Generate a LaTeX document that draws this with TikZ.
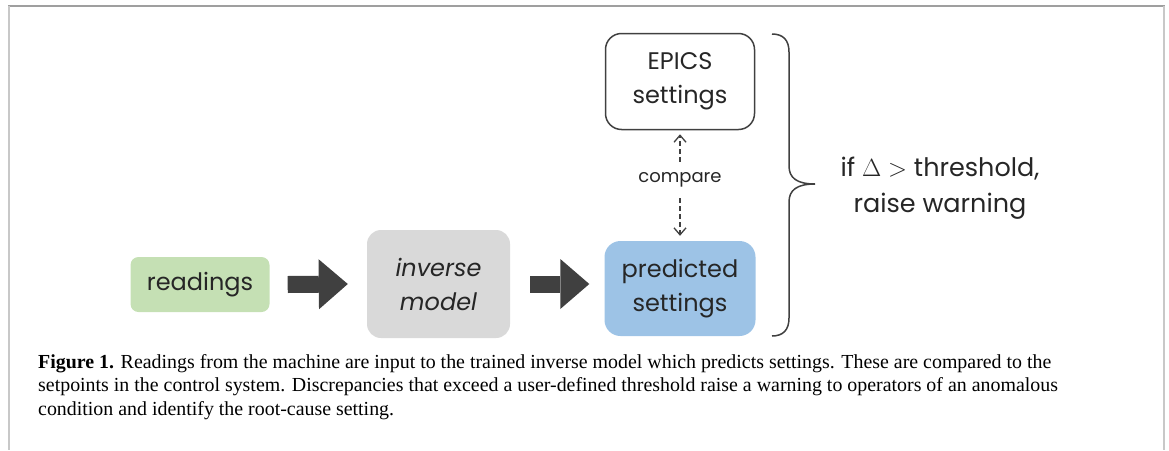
\documentclass[tikz,border=0pt]{standalone}
\usepackage{fontspec}
\setmainfont{Liberation Serif}
\newfontfamily\boxfont{Poppins}
\usetikzlibrary{arrows.meta,calc}

\definecolor{readgreen}{HTML}{C5E0B4}
\definecolor{modelgray}{HTML}{D9D9D9}
\definecolor{predblue}{HTML}{9DC3E6}
\definecolor{darkink}{HTML}{404040}
\definecolor{frameline}{HTML}{C8C8C8}
\newcommand\boxtext{\boxfont\fontsize{24}{34}\selectfont}

\begin{document}
\begin{tikzpicture}[x=1pt,y=-1pt,
	box/.style={rounded corners=14pt, inner sep=0pt, align=center, text=black!85, font=\boxtext},
	fatarrow/.style={draw=darkink, line width=17pt, -{Triangle[length=29pt,width=50pt,line width=0pt]}},
	cmparrow/.style={draw=darkink, line width=1.3pt, dash pattern=on 5pt off 3pt, -{Straight Barb[length=7pt,width=12pt]}}]
	\useasboundingbox (0,0) rectangle (1169,450);
	% page frame
	\draw[gray!75, line width=1.5pt] (8,6) -- (1165,6);
	\draw[frameline, line width=2pt] (9,6) -- (9,450);
	\draw[frameline, line width=2pt] (1164,6) -- (1164,450);

	\node[box, fill=readgreen, rounded corners=8pt, minimum width=139pt, minimum height=55pt] (readings) at (200,284.5) {readings};
	\node[box, fill=modelgray, minimum width=143pt, minimum height=108pt, font=\boxtext\itshape] (model) at (438.5,284) {inverse\\model};
	\node[box, fill=predblue, rounded corners=16pt, minimum width=151pt, minimum height=95pt] (pred) at (680,288.5) {predicted\\settings};
	\node[box, draw=darkink, line width=1.5pt, rounded corners=16pt, minimum width=149pt, minimum height=96pt] (epics) at (680,81.5) {EPICS\\settings};

	\draw[fatarrow] ([xshift=18pt]readings.east) -- ([xshift=-19pt]model.west);
	\draw[fatarrow] ([xshift=20pt]model.east) -- ($(model.east -| pred.west)+(-15,0)$);

	\node[font=\boxfont\fontsize{18}{20}\selectfont, text=black!85, minimum height=36pt, inner sep=0pt] (cmp) at (680,180) {compare};
	\draw[cmparrow, shorten >=4pt] (cmp) -- (epics);
	\draw[cmparrow, shorten >=5pt] (cmp) -- (pred);

	% brace and warning
	\draw[darkink, line width=1.5pt] (772,34) .. controls (783,34) and (789,40) .. (789,52) -- (789,166) .. controls (789,178) and (797,184) .. (815,184) .. controls (797,184) and (789,190) .. (789,202) -- (789,318) .. controls (789,330) and (783,336) .. (772,336);
	\node[align=center, text=black!85, font=\boxfont\fontsize{25.5}{36}\selectfont, inner sep=0pt] (warn) at (940,188) {if $\Delta >$ threshold,\\raise warning};

	% caption
	\begin{scope}[every node/.style={anchor=base west, inner sep=0pt, font=\fontsize{19.9}{23}\selectfont}]
	\node (cap1) at (38,368) {\textbf{Figure 1.} Readings from the machine are input to the trained inverse model which predicts settings. These are compared to the};
	\node (cap2) at (38,391.5) {setpoints in the control system. Discrepancies that exceed a user-defined threshold raise a warning to operators of an anomalous};
	\node (cap3) at (38,415) {condition and identify the root-cause setting.};
	\end{scope}
\end{tikzpicture}
\end{document}
